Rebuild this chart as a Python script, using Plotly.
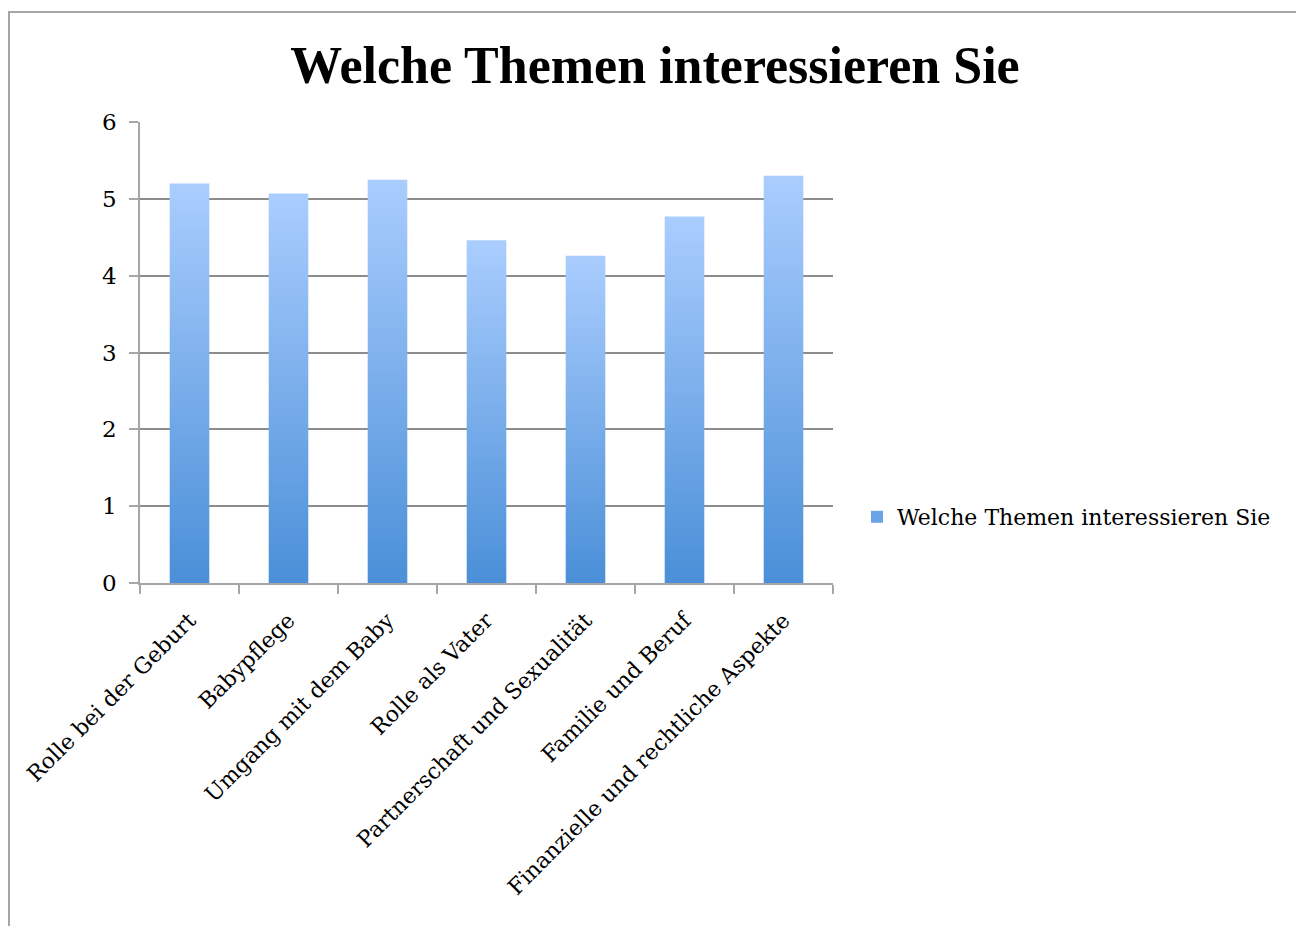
import plotly.graph_objects as go

categories = ["Rolle bei der Geburt", "Babypflege", "Umgang mit dem Baby", "Rolle als Vater",
              "Partnerschaft und Sexualität", "Familie und Beruf", "Finanzielle und rechtliche Aspekte"]
values = [5.20, 5.07, 5.25, 4.46, 4.26, 4.77, 5.30]
series_name = "Welche Themen interessieren Sie"
y_ticks = [0, 1, 2, 3, 4, 5, 6]

half_w = 0.2
fig = go.Figure()
for i, v in enumerate(values):
    fig.add_trace(go.Scatter(
        x=[i - half_w, i + half_w, i + half_w, i - half_w, i - half_w],
        y=[0, 0, v, v, 0],
        mode="lines", line=dict(width=0),
        fill="toself",
        fillcolor="#7fb0ec",
        fillgradient=dict(type="vertical", start=0, stop=v,
                          colorscale=[[0, "#4a8fd8"], [1, "#aacdfe"]]),
        name=series_name, showlegend=False,
        hovertext=f"{categories[i]}: {v}", hoverinfo="text",
    ))
# legend entry (square swatch)
fig.add_trace(go.Bar(x=[None], y=[None], name=series_name,
                     marker=dict(color="#6aa3e6", line=dict(width=0)), showlegend=True))

OFF = 8  # page body margin
W, H = 1304 - OFF, 926 - OFF
L, R, T, B = 140 - OFF, 833 - OFF, 122 - OFF, 583 - OFF
pw, ph = R - L, B - T

def px(x):
    return (x - OFF - L) / pw

def py(y):
    return (B - (y - OFF)) / ph

fig.update_layout(
    width=W, height=H,
    margin=dict(l=L, r=W - R, t=T, b=H - B),
    paper_bgcolor="white", plot_bgcolor="white",
    font=dict(family="DejaVu Serif", size=22, color="black"),
    title=dict(text="<b>Welche Themen interessieren Sie</b>", x=(655 - OFF) / W, xanchor="center",
               y=1 - (65 - OFF) / H, yanchor="middle",
               font=dict(family="Liberation Serif", size=52, color="black")),
    showlegend=True,
    legend=dict(x=px(857), y=py(517), xanchor="left", yanchor="middle",
                font=dict(family="DejaVu Serif", size=22), itemwidth=30,
                bgcolor="rgba(0,0,0,0)"),
    xaxis=dict(range=[-0.5, len(categories) - 0.5], tickmode="array",
               tickvals=list(range(len(categories))), ticktext=categories,
               tickangle=-45, ticks="", showgrid=False, zeroline=False,
               showline=True, linecolor="#a6a6a6", linewidth=1.5,
               ticklabelstandoff=14,
               minor=dict(tick0=-0.5, dtick=1, ticks="outside", ticklen=9,
                          tickcolor="#a6a6a6", tickwidth=1.5, showgrid=False),
               tickfont=dict(size=22)),
    yaxis=dict(range=[0, 6], tickvals=y_ticks, showgrid=True, gridcolor="#8c8c8c",
               gridwidth=1.5, zeroline=False, showline=True, linecolor="#a6a6a6",
               linewidth=1.5, ticks="outside", ticklen=9, tickcolor="#a6a6a6",
               tickwidth=1.5, ticklabelstandoff=8, tickfont=dict(size=23)),
    shapes=[dict(type="rect", xref="paper", yref="paper",
                 x0=px(9), x1=px(1301), y0=py(940), y1=py(12),
                 line=dict(color="#a6a6a6", width=2), layer="below")],
)

fig.write_html("out.html")
